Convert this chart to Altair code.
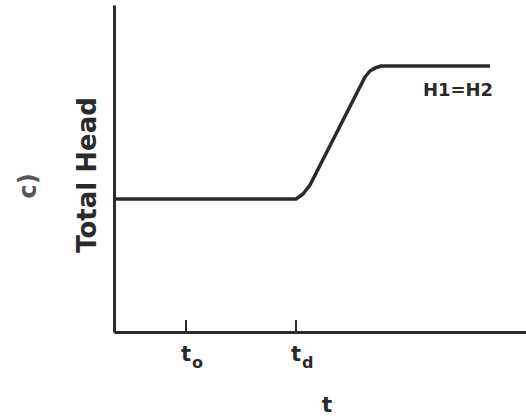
import altair as alt
import pandas as pd

# Curve of total head vs time (plot units: x 0-412, y 0-327)
t_vals = [0, 182, 189, 196, 251, 256, 261, 267, 376]
head_vals = [133, 133, 138, 147, 255, 261, 264, 266, 266]

# Tick positions and labels on the time axis
tick_pos = [72, 182]
tick_main = ["t", "t"]
tick_sub = ["o", "d"]

series_label = "H1=H2"
x_title = "t"
y_title = "Total Head"
panel_label = "c)"

FONT = "DejaVu Sans"
INK = "#2a2a2a"

xs = alt.Scale(domain=[0, 412], nice=False, zero=False)
ys = alt.Scale(domain=[0, 327], nice=False, zero=False)

curve_df = pd.DataFrame({"t": t_vals, "h": head_vals})
base = alt.Chart(curve_df).mark_line(color=INK, strokeWidth=3.5, strokeJoin="round").encode(
    x=alt.X("t:Q", scale=xs, axis=alt.Axis(domain=True, domainWidth=3, domainColor=INK,
                                            labels=False, ticks=False, grid=False, title=None)),
    y=alt.Y("h:Q", scale=ys, axis=alt.Axis(domain=True, domainWidth=3, domainColor=INK,
                                            labels=False, ticks=False, grid=False, title=None)),
)

ticks_df = pd.DataFrame({"x": tick_pos, "y0": [0, 0], "y1": [12, 12],
                         "main": tick_main, "sub": tick_sub})
ticks = alt.Chart(ticks_df).mark_rule(color=INK, strokeWidth=2).encode(
    x=alt.X("x:Q", scale=xs), y=alt.Y("y0:Q", scale=ys), y2="y1:Q")

tick_main_txt = alt.Chart(ticks_df).mark_text(
    font=FONT, fontWeight="bold", fontSize=21, color=INK, baseline="middle", align="center", dx=0, dy=23
).encode(x=alt.X("x:Q", scale=xs), y=alt.Y("y0:Q", scale=ys), text="main:N")

tick_sub_txt = alt.Chart(ticks_df).mark_text(
    font=FONT, fontWeight="bold", fontSize=16, color=INK, baseline="middle", align="left", dx=6, dy=31
).encode(x=alt.X("x:Q", scale=xs), y=alt.Y("y0:Q", scale=ys), text="sub:N")

lab_df = pd.DataFrame({"x": [344], "y": [241], "s": [series_label]})
series_txt = alt.Chart(lab_df).mark_text(
    font=FONT, fontWeight="bold", fontSize=18, color=INK, baseline="middle", align="center"
).encode(x=alt.X("x:Q", scale=xs), y=alt.Y("y:Q", scale=ys), text="s:N")

xt_df = pd.DataFrame({"x": [213], "y": [-73], "s": [x_title]})
x_title_txt = alt.Chart(xt_df).mark_text(
    font=FONT, fontWeight="bold", fontSize=22, color=INK, baseline="middle", align="center"
).encode(x=alt.X("x:Q", scale=xs), y=alt.Y("y:Q", scale=ys), text="s:N")

yt_df = pd.DataFrame({"x": [-26], "y": [157], "s": [y_title]})
y_title_txt = alt.Chart(yt_df).mark_text(
    font=FONT, fontWeight="bold", fontSize=26, color=INK, baseline="middle", align="center", angle=270
).encode(x=alt.X("x:Q", scale=xs), y=alt.Y("y:Q", scale=ys), text="s:N")

pl_df = pd.DataFrame({"x": [-85], "y": [146], "s": [panel_label]})
panel_txt = alt.Chart(pl_df).mark_text(
    font=FONT, fontWeight="bold", fontSize=24, color="#555", baseline="middle", align="center", angle=270
).encode(x=alt.X("x:Q", scale=xs), y=alt.Y("y:Q", scale=ys), text="s:N")

chart = alt.layer(base, ticks, tick_main_txt, tick_sub_txt, series_txt, x_title_txt,
                  y_title_txt, panel_txt).properties(
    width=412, height=327,
    autosize=alt.AutoSizeParams(type="none"),
    padding={"left": 114, "top": 5, "right": 0, "bottom": 87},
    background="white",
).configure_view(stroke=None)

chart.save("out.html", embed_options={"renderer": "svg", "actions": False})
